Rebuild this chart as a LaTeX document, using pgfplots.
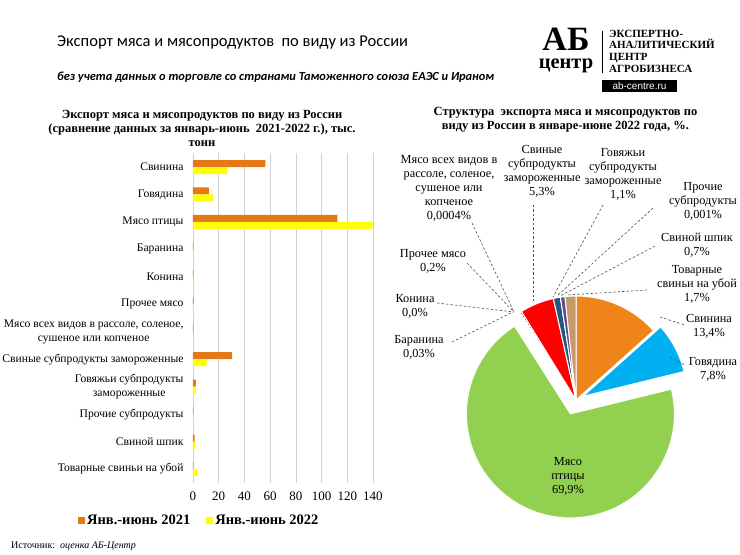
\documentclass[border=0pt]{standalone}
\usepackage{pgfplots}
\pgfplotsset{compat=1.18}
\usepackage{pgfplotstable}
\usepackage{fontspec}
\setmainfont{Liberation Serif}
\newfontfamily\hdrfont{Carlito}
\newfontfamily\logosans{Liberation Sans}
\usetikzlibrary{calc}

\definecolor{barorange}{HTML}{E67817}
\definecolor{baryellow}{HTML}{FFFF00}
\definecolor{pieorange}{HTML}{EF8419}
\definecolor{pieblue}{HTML}{00B0F0}
\definecolor{piegreen}{HTML}{92D050}
\definecolor{piered}{HTML}{FF0000}
\definecolor{piedkblue}{HTML}{22587F}
\definecolor{piepurple}{HTML}{5E4C8F}
\definecolor{piepurple2}{HTML}{7060B0}
\definecolor{pietan}{HTML}{C49A66}
\definecolor{pieggray}{HTML}{A0A0A0}
\definecolor{leader}{HTML}{505050}

\newcommand{\fs}[2]{\fontsize{#1}{#2}\selectfont}

\pgfplotstableread{
idx y2021 y2022
0 56.2 26.8
1 12.3 15.6
2 112.3 139.8
3 0.3 0.06
4 0.2 0.0
5 0.5 0.4
6 0.3 0.01
7 30.5 10.6
8 2.3 2.2
9 0.2 0.01
10 1.2 1.4
11 0.3 3.5
}\bars

\begin{document}
\begin{tikzpicture}[x=1pt,y=1pt]
\path[use as bounding box] (0,0) rectangle (740,555);

% ---------- header ----------
\node[anchor=west, inner sep=0, font=\hdrfont\fs{16.5}{19}] at (57,512) {Экспорт мяса и мясопродуктов\ \ по виду из России};
\node[anchor=west, inner sep=0, font=\hdrfont\bfseries\itshape\fs{12.4}{14}] at (57,478) {без учета данных о торговле со странами Таможенного союза ЕАЭС и Ираном};

% ---------- logo ----------
\node[inner sep=0, text depth=0pt, font=\bfseries\fs{34}{34}] at (566,516) {АБ};
\node[inner sep=0, text height=1.2ex, font=\bfseries\fs{20.5}{21}] at (566,487) {центр};
\draw[line width=0.8pt] (602,524) -- (602,482);
\node[anchor=west, inner sep=0, align=left, font=\bfseries\fs{11}{11.7}] at (609,504) {ЭКСПЕРТНО-\\АНАЛИТИЧЕСКИЙ\\ЦЕНТР\\АГРОБИЗНЕСА};
\fill[black] (602,463) rectangle (677,475);
\node[inner sep=0, text=white, font=\logosans\fs{10}{11}] at (639.5,469) {ab-centre.ru};

% ---------- left chart title ----------
\node[align=center, inner sep=0, font=\bfseries\fs{12.5}{14}] at (202,427) {Экспорт мяса и мясопродуктов по виду из России\\(сравнение данных за январь-июнь\ \ 2021-2022 г.), тыс.\\тонн};

% ---------- left bar chart ----------
\begin{axis}[
  at={(193pt,72.2pt)}, anchor=south west,
  scale only axis, width=180pt, height=329.5pt,
  xbar, bar width=7pt,
  xmin=0, xmax=140, ymin=-0.5, ymax=11.5, y dir=reverse,
  xtick={0,20,...,140}, ytick={0,...,11},
  yticklabels={Свинина, Говядина, Мясо птицы, Баранина, Конина, Прочее мясо,
    {Мясо всех видов в рассоле, соленое,\\сушеное или копченое},
    Свиные субпродукты замороженные,
    {Говяжьи субпродукты\\замороженные},
    Прочие субпродукты, Свиной шпик, Товарные свиньи на убой},
  yticklabel style={align=center, font=\fs{11.6}{14}, xshift=-6pt},
  xticklabel style={font=\fs{13}{15}, yshift=-6pt},
  /pgf/number format/assume math mode=true,
  xmajorgrids, grid style={draw=black!18, line width=0.7pt},
  axis line style={draw=none}, major tick length=0pt,
  legend columns=2,
  legend style={draw=none, fill=none, at={(axis description cs:0.035,-0.113)}, anchor=center,
    font=\bfseries\fs{14.5}{16},
    /tikz/every even column/.append style={column sep=14pt}},
  legend image code/.code={\fill[#1] (0pt,-3.5pt) rectangle (7pt,3.5pt);},
]
\addplot[fill=barorange, draw=none, bar shift=3.5pt] table[x=y2021, y=idx]{\bars};
\addplot[fill=baryellow, draw=none, bar shift=-3.5pt] table[x=y2022, y=idx]{\bars};
\legend{Янв.-июнь 2021, Янв.-июнь 2022}
\end{axis}

% ---------- source ----------
\node[anchor=west, inner sep=0, font=\fs{10}{12}] at (11,9) {Источник:\ \ \textit{оценка АБ-Центр}};

% ---------- right chart title ----------
\node[align=center, inner sep=0, font=\bfseries\fs{12.5}{14}] at (565.5,435) {Структура\ \ экспорта мяса и мясопродуктов по\\виду из России в январе-июне 2022 года, \%.};

% ---------- pie ----------
\begin{axis}[at={(576pt,155pt)}, anchor=origin, x=1pt, y=1pt,
  xmin=-130, xmax=130, ymin=-130, ymax=130, hide axis, clip=false]
\pgfplotsextra{
  \gdef\cum{0}
  \foreach \v/\c/\e/\w in {13.4/pieorange/0/1, 7.8/pieblue/8/1, 69.9/piegreen/15/1,
      0.03/pieggray/0/0, 0.0/pieggray/0/0, 0.2/piepurple2/0/0, 0.0004/pieggray/0/0,
      5.3/piered/0/1, 1.1/piedkblue/0/1, 0.001/pieggray/0/0, 0.7/piepurple/0/1, 1.7/pietan/0/1}{
    \pgfmathsetmacro\a{90-\cum*3.59528}
    \pgfmathsetmacro\b{90-(\cum+\v)*3.59528}
    \pgfmathsetmacro\m{(\a+\b)/2}
    \fill[\c, draw=white, line width=\w pt] ($(axis cs:0,0)+(\m:\e pt)$) -- ++(\a:104pt) arc[start angle=\a, end angle=\b, radius=104pt] -- cycle;
    \pgfmathsetmacro\n{\cum+\v}
    \xdef\cum{\n}
  }
}
\end{axis}

% ---------- leader lines ----------
\begin{scope}[leader, line width=0.6pt, dash pattern=on 2.5pt off 2pt]
\draw (472,332) -- (514,243);
\draw (467,292) -- (514,243);
\draw (437,252) -- (514,243);
\draw (452,213) -- (513,243);
\draw (533,350) -- (533,254);
\draw (603,350) -- (553,258);
\draw (653,347) -- (557,259);
\draw (655,309) -- (560,259);
\draw (647,265) -- (567,260);
\draw (660,238) -- (685,230);
\draw (670,198) -- (685,190);
\end{scope}

% ---------- pie labels ----------
\begin{scope}[every node/.style={align=center, inner sep=0, font=\fs{12.3}{14}}]
\node at (449,367) {Мясо всех видов в\\рассоле, соленое,\\сушеное или\\копченое\\0,0004\%};
\node at (542,383.5) {Свиные\\субпродукты\\замороженные\\5,3\%};
\node at (623,381) {Говяжьи\\субпродукты\\замороженные\\1,1\%};
\node at (703,354) {Прочие\\субпродукты\\0,001\%};
\node at (697,310) {Свиной шпик\\0,7\%};
\node at (697,271) {Товарные\\свиньи на убой\\1,7\%};
\node at (433,294) {Прочее мясо\\0,2\%};
\node at (415,249) {Конина\\0,0\%};
\node at (419,208) {Баранина\\0,03\%};
\node at (709,228.5) {Свинина\\13,4\%};
\node at (713,186) {Говядина\\7,8\%};
\node at (568,79) {Мясо\\птицы\\69,9\%};
\end{scope}
\end{tikzpicture}
\end{document}
